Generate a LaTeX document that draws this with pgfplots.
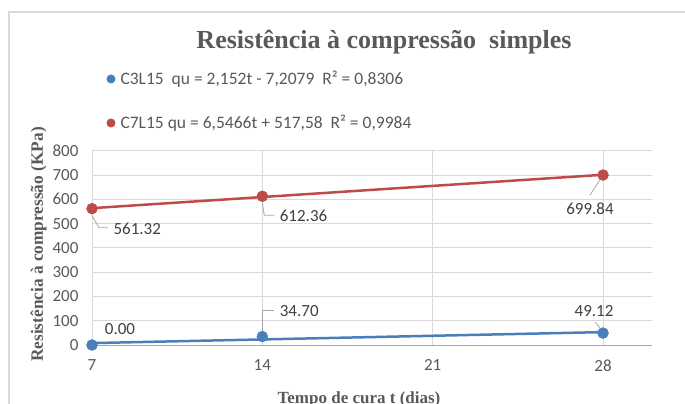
\documentclass[border=0pt]{standalone}
\usepackage{pgfplots}
\pgfplotsset{compat=1.18}
\usepackage{fontspec}
\setmainfont{Liberation Serif}
\newfontfamily\calfont{Carlito}
\definecolor{cblue}{HTML}{4A7EBB}
\definecolor{cred}{HTML}{BE4B48}
\definecolor{gridc}{HTML}{D9D9D9}
\definecolor{txt}{HTML}{595959}
\definecolor{lbl}{HTML}{404040}
\definecolor{leader}{HTML}{A6A6A6}
\begin{document}
\begin{tikzpicture}
\path[use as bounding box] (0pt,0pt) rectangle (685pt,404pt);
\draw[gridc, line width=1.2pt] (9pt,-5pt) -- (9pt,392pt) -- (690pt,392pt);
\node[txt, font=\fontsize{26}{30}\selectfont\bfseries] at (384pt,362pt) {Resistência à compressão\ \ simples};
\fill[cblue] (111pt,325pt) circle (4.5pt);
\node[anchor=west, txt, font=\calfont\fontsize{17.5}{20}\selectfont] at (117pt,325pt) {C3L15\ \ qu = 2,152t - 7,2079\ \ R² = 0,8306};
\fill[cred] (111pt,281pt) circle (4.5pt);
\node[anchor=west, txt, font=\calfont\fontsize{17.5}{20}\selectfont] at (117pt,281pt) {C7L15 qu = 6,5466t + 517,58\ \ R² = 0,9984};
\node[txt, rotate=90, font=\fontsize{17.3}{20}\selectfont\bfseries] at (38.5pt,159.5pt) {Resistência à compressão (KPa)};
\node[txt, font=\fontsize{17}{20}\selectfont\bfseries] at (359pt,5pt) {Tempo de cura t (dias)};
\begin{axis}[
  at={(92pt,59pt)}, anchor=south west, scale only axis,
  width=559.7pt, height=194.3pt,
  xmin=7, xmax=30, ymin=0, ymax=800,
  xtick={7,14,21,28}, ytick={0,100,...,800},
  grid=major, grid style={gridc, line width=0.9pt},
  axis line style={draw=none}, major tick length=0pt,
  tick label style={txt, font=\calfont\fontsize{17}{18}\selectfont},
  xticklabel style={yshift=-11pt},
  yticklabel style={xshift=-10pt},
  /pgf/number format/assume math mode=true,
  clip=false]
\draw[gray!70, line width=0.9pt] (axis cs:7,0) -- (axis cs:30,0);
\addplot[cblue, line width=2.5pt, no marks] coordinates {(7,7.856) (28,53.048)};
\addplot[cred, line width=2.5pt, no marks] coordinates {(7,563.40) (28,700.88)};
\addplot[only marks, mark=*, mark size=5.5pt, cblue, mark options={draw=cblue, fill=cblue}] coordinates {(7,0) (14,34.70) (28,49.12)};
\addplot[only marks, mark=*, mark size=5.5pt, cred, mark options={draw=cred, fill=cred}] coordinates {(7,561.32) (14,612.36) (28,699.84)};
\begin{scope}[every node/.style={lbl, font=\calfont\fontsize{17}{20}\selectfont}]
\node at ([shift={(28pt,16pt)}]axis cs:7,0) {0.00};
\draw[leader, line width=0.8pt] ([shift={(0pt,6pt)}]axis cs:14,34.70) -- ([shift={(0pt,26pt)}]axis cs:14,34.70) -- ([shift={(12pt,26pt)}]axis cs:14,34.70);
\node[anchor=west] at ([shift={(14pt,26pt)}]axis cs:14,34.70) {34.70};
\draw[leader, line width=0.8pt] ([shift={(0pt,-7pt)}]axis cs:14,612.36) -- ([shift={(2pt,-19pt)}]axis cs:14,612.36) -- ([shift={(12pt,-19pt)}]axis cs:14,612.36);
\node[anchor=west] at ([shift={(14pt,-19.5pt)}]axis cs:14,612.36) {612.36};
\draw[leader, line width=0.8pt] ([shift={(0pt,-7pt)}]axis cs:7,561.32) -- ([shift={(7pt,-19pt)}]axis cs:7,561.32) -- ([shift={(16pt,-19pt)}]axis cs:7,561.32);
\node[anchor=west] at ([shift={(18pt,-20pt)}]axis cs:7,561.32) {561.32};
\draw[leader, line width=0.8pt] ([shift={(-2pt,-3pt)}]axis cs:28,699.84) -- ([shift={(-13pt,-20pt)}]axis cs:28,699.84);
\node at ([shift={(-13pt,-34pt)}]axis cs:28,699.84) {699.84};
\draw[leader, line width=0.8pt] ([shift={(-8pt,11pt)}]axis cs:28,49.12) -- ([shift={(-3pt,5pt)}]axis cs:28,49.12);
\node at ([shift={(-9pt,22pt)}]axis cs:28,49.12) {49.12};
\end{scope}
\end{axis}
\end{tikzpicture}
\end{document}
